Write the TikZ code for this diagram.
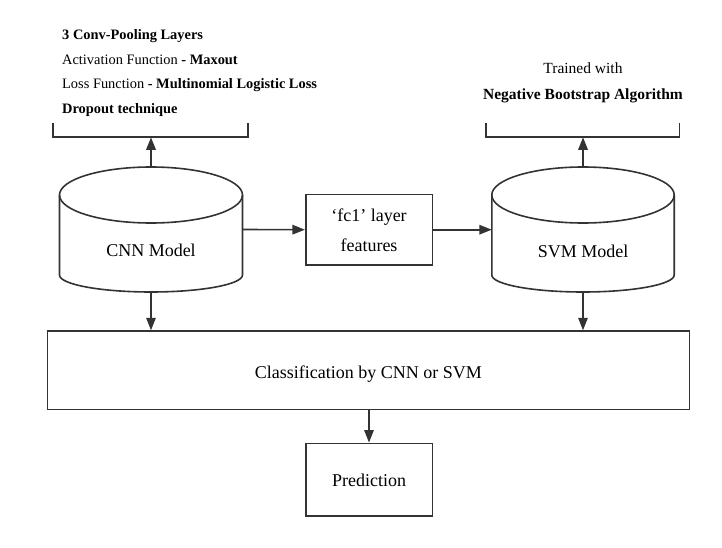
\documentclass[tikz,border=0pt]{standalone}
\usepackage{fontspec}
\setmainfont{Liberation Serif}
\usetikzlibrary{arrows.meta,calc}
\definecolor{lc}{HTML}{333333}
\begin{document}
\begin{tikzpicture}[x=1pt,y=-1pt,
  line/.style={draw=lc, line width=1.6pt},
  arr/.style={line, -{Triangle[length=12.5pt,width=9.5pt]}},
  boxshape/.style={draw=lc, line width=1.6pt, inner sep=0pt},
  ghost/.style={inner sep=0pt, outer sep=0pt},
  bigtxt/.style={font=\fontsize{18}{21}\selectfont, inner sep=0pt, anchor=base},
  lefttxt/.style={font=\fontsize{14.4}{17}\selectfont, inner sep=0pt, anchor=base west},
  righttxt/.style={font=\fontsize{15.5}{18}\selectfont, inner sep=0pt, anchor=base}]
\useasboundingbox (0,0) rectangle (722,548);

% left annotation
\node[lefttxt] (l1) at (62,40) {\textbf{3 Conv-Pooling Layers}};
\node[lefttxt] (l2) at (62,64.4) {Activation Function \textbf{- Maxout}};
\node[lefttxt] (l3) at (62,88.8) {Loss Function \textbf{- Multinomial Logistic Loss}};
\node[lefttxt] (l4) at (62,113.2) {\textbf{Dropout technique}};
\coordinate (lbr) at (151,137.3);
\draw[line] (53,123.3) -- (53,137.3) -- (248,137.3) -- (248,123.3);

% right annotation
\node[righttxt] (r1) at (583,73.3) {Trained with};
\node[righttxt] (r2) at (583,99.3) {\textbf{Negative Bootstrap Algorithm}};
\coordinate (rbr) at (583,137.3);
\draw[line] (485.7,123.3) -- (485.7,137.3) -- (679.3,137.3) -- (679.3,123.3);

% CNN cylinder
\node[ghost, minimum width=183pt, minimum height=125pt] (cnn) at (151,229.5) {};
\draw[line] (151,195) ellipse[x radius=91.5, y radius=28];
\draw[line] (59.5,195) -- (59.5,275) arc[start angle=180, end angle=0, x radius=91.5, y radius=17] -- (242.5,195);
\node[bigtxt] (cnnt) at (151,256.7) {CNN Model};

% SVM cylinder
\node[ghost, minimum width=182.4pt, minimum height=125pt] (svm) at (583,229.5) {};
\draw[line] (583,195) ellipse[x radius=91.2, y radius=28];
\draw[line] (491.8,195) -- (491.8,275) arc[start angle=180, end angle=0, x radius=91.2, y radius=17] -- (674.2,195);
\node[bigtxt] (svmt) at (583,257) {SVM Model};

% fc1 box
\node[boxshape, minimum width=126.6pt, minimum height=70.7pt] (fc) at (369,229.7) {};
\node[bigtxt] (fct1) at (369,221) {‘fc1’ layer};
\node[bigtxt] (fct2) at (369,251.7) {features};

% classification box
\node[boxshape, minimum width=642pt, minimum height=78.3pt] (cls) at (368.3,370.2) {};
\node[bigtxt] (clst) at (368.3,378) {Classification by CNN or SVM};

% prediction box
\node[boxshape, minimum width=126.6pt, minimum height=72.4pt] (pred) at (369,479.5) {};
\node[bigtxt] (predt) at (369,486) {Prediction};

% connectors
\draw[arr] (cnn.north -| lbr) -- (lbr);
\draw[arr] (svm.north) -- (rbr);
\draw[arr] (cnn.east) -- (fc.west);
\draw[arr] (fc.east) -- (fc.east -| svm.west);
\draw[arr] (cnn.south) -- (cnn.south |- cls.north);
\draw[arr] (svm.south) -- (svm.south |- cls.north);
\draw[arr] (cls.south -| pred.north) -- (pred.north);
\end{tikzpicture}
\end{document}
